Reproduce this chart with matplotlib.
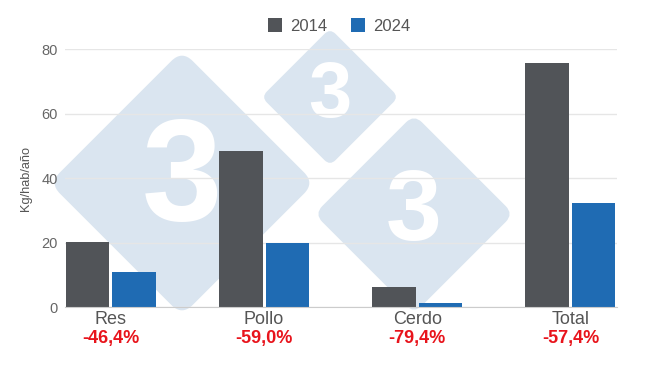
import numpy as np
import matplotlib
matplotlib.use("Agg")
import matplotlib.pyplot as plt
from matplotlib.patches import FancyBboxPatch
from matplotlib.transforms import Affine2D

plt.rcParams['font.family'] = ['Liberation Sans', 'DejaVu Sans']

# --- data ---
categories = ["Res", "Pollo", "Cerdo", "Total"]
years = ["2014", "2024"]
values_2014 = [20.2, 48.4, 6.2, 75.8]
values_2024 = [10.8, 19.8, 1.3, 32.3]
changes = ["-46,4%", "-59,0%", "-79,4%", "-57,4%"]
y_ticks = [0, 20, 40, 60, 80]

col_2014 = "#515458"
col_2024 = "#1f6bb3"
txt_gray = "#666666"

fig = plt.figure(figsize=(6.5, 3.66), dpi=100)

# watermark layer (pixel coords)
bg = fig.add_axes([0, 0, 1, 1], zorder=0)
bg.set_xlim(0, 650)
bg.set_ylim(366, 0)
bg.axis("off")
for cx, cy, d, fs in [(182, 183, 127, 104), (330, 97, 63, 56), (414, 214, 94, 72)]:
    s = d * np.sqrt(2) + 8
    r = s * 0.08
    box = FancyBboxPatch((cx - s / 2, cy - s / 2), s, s,
                         boxstyle=f"round,pad=0,rounding_size={r}",
                         facecolor="#dae5f0", edgecolor="none",
                         transform=Affine2D().rotate_deg_around(cx, cy, 45) + bg.transData)
    bg.add_patch(box)
    bg.text(cx, cy, "3", color="white", fontsize=fs, fontweight="bold",
            ha="center", va="center")

# main chart
ax = fig.add_axes([0.1, 0.161, 0.849, 0.705], zorder=1)
ax.set_facecolor("none")
x = np.arange(len(categories))
w = 0.284
off = 0.152
ax.bar(x - off, values_2014, w, color=col_2014, label=years[0], zorder=3)
ax.bar(x + off, values_2024, w, color=col_2024, label=years[1], zorder=3)

ax.set_xlim(-0.30, 3.303)
ax.set_ylim(0, 80)
ax.set_yticks(y_ticks)
ax.set_yticklabels([str(t) for t in y_ticks], color=txt_gray, fontsize=10.5)
ax.tick_params(axis="y", length=0, pad=5)
ax.set_xticks([])
ax.grid(axis="y", color="#e6e6e6", linewidth=1, zorder=0)
for side in ["top", "right", "left"]:
    ax.spines[side].set_visible(False)
ax.spines["bottom"].set_color("#cccccc")
ax.spines["bottom"].set_zorder(4)

ax.set_ylabel("Kg/hab/año", color="#555555", fontsize=9.2, labelpad=7)

for i, (cat, ch) in enumerate(zip(categories, changes)):
    ax.annotate(cat, (x[i], 0), xytext=(0, -12), textcoords="offset pixels",
                ha="center", va="center", fontsize=13, color="#555555")
    ax.annotate(ch, (x[i], 0), xytext=(0, -31), textcoords="offset pixels",
                ha="center", va="center", fontsize=13, color="#e8141c",
                fontweight="bold")

fig.legend(loc="center", bbox_to_anchor=(0.522, 0.929), ncol=2, frameon=False,
           fontsize=12, handlelength=0.85, handleheight=0.85,
           handletextpad=0.5, columnspacing=1.4, labelcolor="#555555")

fig.savefig("out.png", dpi=100)
